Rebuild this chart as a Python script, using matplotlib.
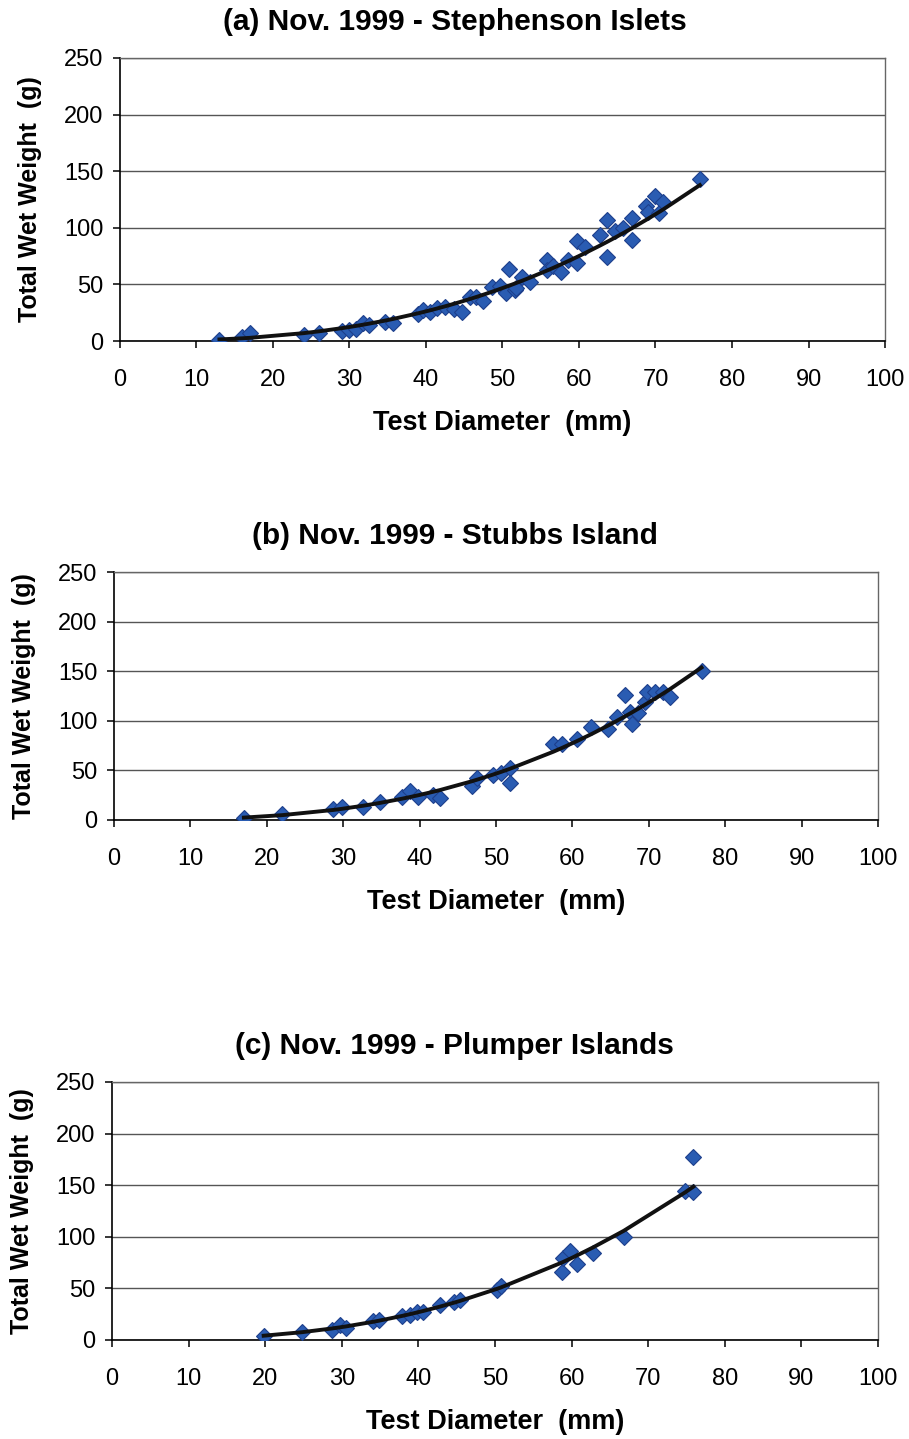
#!/usr/bin/env python3
"""
Test diameter vs total wet weight, Nov. 1999, three sites.
"""

import numpy as np
import matplotlib
matplotlib.use("Agg")
import matplotlib.pyplot as plt

plt.rcParams['font.family'] = ['Liberation Sans', 'DejaVu Sans']

# (a) Stephenson Islets
diam_a = [13, 16, 17, 24, 26, 29, 30, 30.9, 31.8, 32.5, 34.6, 35.7,
          39, 39.6, 40.5, 41.4, 42.5, 43.6, 44.7, 45.8, 46.6, 47.5,
          48.6, 49.7, 50.5, 50.8, 51.6, 51.8, 52.5, 53.6, 55.8, 55.8,
          56.6, 57.7, 58.6, 59.7, 59.7, 60.8, 62.7, 63.6, 63.6, 64.7,
          65.8, 66.9, 66.9, 68.8, 69, 70, 70.4, 71, 75.8]
weight_a = [1, 4, 7, 5, 7, 9, 10, 11, 16, 14, 17, 16,
            24, 27, 26, 29, 30, 28, 26, 39, 39, 35,
            48, 49, 42, 64, 45, 47, 57, 52, 72, 63,
            66, 61, 72, 88, 69, 83, 94, 107, 74, 97,
            100, 109, 89, 119, 114, 128, 113, 123, 143]

# (b) Stubbs Island
diam_b = [17, 22, 28.7, 29.8, 32.6, 34.8, 37.7, 38.7, 39.8, 41.8, 42.7,
          46.8, 47.5, 49.6, 50.7, 51.8, 51.8, 57.5, 58.6, 60.6, 62.5,
          64.7, 65.8, 66.9, 67.5, 67.8, 68.6, 69.5, 69.7, 70.8, 71.9,
          72.8, 76.9]
weight_b = [2, 6, 11, 13, 13, 18, 23, 29, 23, 25, 22,
            34, 42, 45, 47, 52, 37, 77, 77, 82, 94,
            92, 104, 126, 109, 97, 108, 119, 129, 129, 129,
            124, 150]

# (c) Plumper Islands
diam_c = [19.8, 24.8, 28.7, 29.8, 30.6, 34.1, 34.8, 37.8, 38.9, 39.8,
          40.6, 42.8, 44.6, 45.4, 50.2, 50.8, 58.7, 58.9, 59.8, 60.7,
          62.8, 66.8, 74.8, 75.9, 75.9]
weight_c = [4, 8, 10, 15, 12, 18, 19, 23, 24, 27,
            27, 34, 37, 39, 48, 52, 66, 79, 86, 74,
            84, 100, 144, 143, 177]

titles = ["(a) Nov. 1999 - Stephenson Islets",
          "(b) Nov. 1999 - Stubbs Island",
          "(c) Nov. 1999 - Plumper Islands"]

# axes boxes in figure fractions (left, bottom, width, height)
boxes = [(0.132, 0.763, 0.8416, 0.1967),
         (0.1254, 0.4302, 0.8405, 0.1723),
         (0.1232, 0.0688, 0.8427, 0.1793)]

FIG_H = 1439


def power_fit(x, y):
    """Excel-style power trendline, evaluated at the sorted data points"""
    x = np.asarray(x, float)
    y = np.asarray(y, float)
    b, ln_a = np.polyfit(np.log(x), np.log(y), 1)
    xs = np.unique(x)
    return xs, np.exp(ln_a) * xs ** b


fig = plt.figure(figsize=(9.09, 14.39), dpi=100)

for box, title, x, y in zip(boxes, titles,
                            [diam_a, diam_b, diam_c],
                            [weight_a, weight_b, weight_c]):
    ax = fig.add_axes(box)
    ax.set_xlim(0, 100)
    ax.set_ylim(0, 250)
    ax.set_xticks(range(0, 101, 10))
    ax.set_yticks(range(0, 251, 50))
    ax.yaxis.grid(True, color='#555555', lw=1.0)
    ax.set_axisbelow(True)

    ax.plot(x, y, 'D', ms=8.5, mfc='#2a5cb2', mec='#1d3f8c', mew=0.8,
            zorder=3)
    xs, ys = power_fit(x, y)
    ax.plot(xs, ys, color='#111111', lw=2.8, zorder=4)

    for side in ['left', 'bottom']:
        ax.spines[side].set_color('black')
        ax.spines[side].set_linewidth(1.2)
    for side in ['top', 'right']:
        ax.spines[side].set_color('#666666')
        ax.spines[side].set_linewidth(1.0)

    ax.tick_params(direction='out', length=5, width=1.1, labelsize=17)
    ax.tick_params(axis='x', pad=15)
    ax.tick_params(axis='y', pad=7)

    # title is centred on the page, not on the plot box
    top = box[1] + box[3]
    fig.text(0.5, top + 36 / FIG_H, title, ha='center', va='center',
             fontsize=21.5, fontweight='bold')
    ax.set_xlabel("Test Diameter  (mm)", fontsize=19.5, fontweight='bold',
                  labelpad=14)
    ax.set_ylabel("Total Wet Weight  (g)", fontsize=18, fontweight='bold')
    ax.yaxis.set_label_coords(-0.102, 0.5)

fig.savefig("out.png", dpi=100)
